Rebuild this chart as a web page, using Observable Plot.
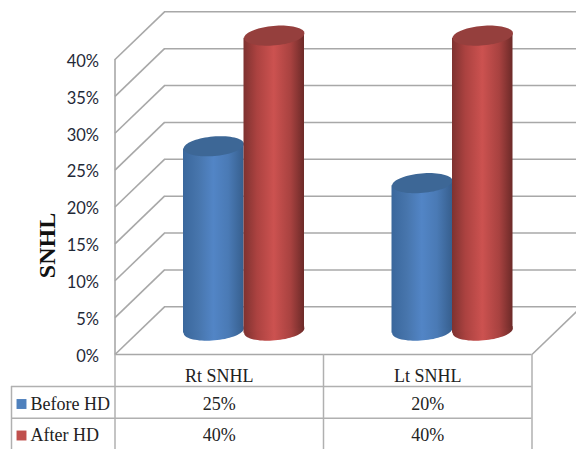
<!DOCTYPE html>
<html>
<head>
<meta charset="utf-8">
<script src="https://cdn.jsdelivr.net/npm/d3@7"></script>
<script src="https://cdn.jsdelivr.net/npm/@observablehq/plot@0.6"></script>
<style>
  html, body { margin: 0; padding: 0; background: #fff; }
  svg { display: block; }
</style>
</head>
<body>
<div id="chart"></div>
<script>
// Sensorineural hearing loss before and after haemodialysis
const categories = ["Rt SNHL", "Lt SNHL"];
const seriesNames = ["Before HD", "After HD"];
const beforeHD = [25, 20];
const afterHD = [40, 40];
const yTicks = [0, 5, 10, 15, 20, 25, 30, 35, 40];

// Scale geometry: one category is 208.5px wide, one percent is 7.375px tall
const W = 576, H = 449;
const catPx = 208.5, pctPx = 7.375, floorPx = 354, leftPx = 114.5;
const xAt = (px) => (px - leftPx) / catPx;
const yAt = (px) => (floorPx - px) / pctPx;

// Oblique projection of the chart box
const depthX = 49.5 / catPx;
const depthY = 47.7 / pctPx;
const barW = 60.5 / catPx;
const tilt = -5 * Math.PI / 180;
const radius = barW * catPx / 2;
const tiltY = radius * Math.sin(-tilt) / pctPx;

// One row per cylinder, built from the series arrays
const bars = (values, side) => values.map((v, i) => ({
  key: i,
  xc: i + 0.5 + depthX / 2 + side * barW / 2,
  yBase: depthY / 2,
  yTop: v + depthY / 2
}));

// Left and right edge of each cylinder wall; both ends lean with the tilted ellipse
const walls = (rows) => rows.flatMap((d) => [
  { key: d.key, x: d.xc - barW / 2, y1: d.yBase - tiltY, y2: d.yTop - tiltY },
  { key: d.key, x: d.xc + barW / 2, y1: d.yBase + tiltY, y2: d.yTop + tiltY }
]);

// Tilted ellipse used for the cylinder ends; the dot's size sets its radius
const ellipse = {
  draw(ctx, size) {
    const rx = Math.sqrt(size / Math.PI), ry = rx / 3.1;
    for (let k = 0; k < 72; ++k) {
      const t = k / 72 * 2 * Math.PI;
      const ex = rx * Math.cos(t), ey = ry * Math.sin(t);
      const px = ex * Math.cos(tilt) - ey * Math.sin(tilt);
      const py = ex * Math.sin(tilt) + ey * Math.cos(tilt);
      k ? ctx.lineTo(px, py) : ctx.moveTo(px, py);
    }
    ctx.closePath();
  }
};

const gradient = (defs, id, stops) => {
  const g = defs.append("linearGradient").attr("id", id)
    .attr("x1", 0).attr("x2", 1).attr("y1", 0).attr("y2", 0);
  stops.forEach(([o, c]) => g.append("stop").attr("offset", o).attr("stop-color", c));
};

const shading = () => {
  const defs = d3.create("svg:defs");
  gradient(defs, "cylBlue", [[0, "#3a679c"], [0.25, "#4775ac"], [0.5, "#5285c6"], [0.75, "#4a7ab5"], [1, "#375f8e"]]);
  gradient(defs, "cylRed", [[0, "#7e3230"], [0.22, "#ab4240"], [0.5, "#cc5250"], [0.78, "#a84240"], [1, "#6c2a28"]]);
  return defs.node();
};

const cylinder = (rows, body, cap) => [
  Plot.dot(rows, { x: "xc", y: "yBase", r: radius, symbol: ellipse, fill: body, stroke: "none" }),
  Plot.areaY(walls(rows), { x: "x", y1: "y1", y2: "y2", z: "key", fill: body }),
  Plot.dot(rows, { x: "xc", y: "yTop", r: radius, symbol: ellipse, fill: cap, stroke: "none" })
];

const gridColor = "#a8a8a8";
const tableColor = "#b0b0b0";
const serif = "'Liberation Serif', serif";
const rowLines = [386, 417.8].map(yAt);
const colLines = [0, 1, 2];
const rowText = [yAt(403.5), yAt(435)];
const tableBottom = yAt(H);

const cellRows = seriesNames.flatMap((s, r) =>
  categories.map((c, i) => ({ text: [beforeHD, afterHD][r][i] + "%", x: i + 0.5, y: rowText[r] })));

const chart = Plot.plot({
  width: W,
  height: H,
  marginLeft: leftPx,
  marginRight: 0,
  marginTop: 0,
  marginBottom: 0,
  x: { type: "linear", domain: [0, 2], range: [leftPx, leftPx + 2 * catPx], axis: null },
  y: { type: "linear", domain: [yAt(H), yAt(0)], range: [H, 0], axis: null },
  style: { background: "#fff" },
  marks: [
    shading,
    // Back wall and side wall grid
    Plot.ruleY(yTicks, {
      y: (d) => d + depthY, x1: depthX, x2: 2 + depthX,
      stroke: gridColor, strokeWidth: 1.6
    }),
    Plot.link(yTicks, {
      x1: 0, y1: (d) => d, x2: depthX, y2: (d) => d + depthY,
      stroke: gridColor, strokeWidth: 1.6
    }),
    // Front edge of the floor and its right-hand side
    Plot.ruleY([0], { x1: 0, x2: 2, stroke: gridColor, strokeWidth: 1.6 }),
    Plot.link([0], { x1: 2, y1: 0, x2: 2 + depthX, y2: depthY, stroke: gridColor, strokeWidth: 1.6 }),
    Plot.ruleX([0], { y1: 0, y2: 40, stroke: gridColor, strokeWidth: 1.6 }),
    // Cylinders, each series drawn with its own shading
    ...cylinder(bars(beforeHD, -1), "url(#cylBlue)", "#3d6796"),
    ...cylinder(bars(afterHD, 1), "url(#cylRed)", "#953f3d"),
    // Value axis
    Plot.axisY(yTicks, {
      anchor: "left", tickSize: 0, tickPadding: 16, dy: 2, label: null,
      tickFormat: (d) => d + "%", fontSize: 16.5,
      fontFamily: "Lato, sans-serif", fill: "#1f2937"
    }),
    Plot.text(["SNHL"], {
      x: xAt(47), y: yAt(245), rotate: -90, fontSize: 24, fontWeight: "bold",
      fontFamily: serif, fill: "#111"
    }),
    // Data table under the plot
    Plot.ruleX(colLines, { y1: tableBottom, y2: 0, stroke: tableColor, strokeWidth: 1.5 }),
    Plot.ruleX([xAt(11)], { y1: tableBottom, y2: rowLines[0], stroke: tableColor, strokeWidth: 1.5 }),
    Plot.ruleY(rowLines, { x1: xAt(11), x2: 2, stroke: tableColor, strokeWidth: 1.5 }),
    Plot.text(categories, {
      x: (d, i) => i + 0.5, y: yAt(376), text: (d) => d,
      fontSize: 18, fontFamily: serif, fill: "#222"
    }),
    Plot.text(cellRows, {
      x: "x", y: "y", text: "text",
      fontSize: 18, fontFamily: serif, fill: "#222"
    }),
    Plot.dot(seriesNames, {
      x: xAt(21), y: (d, r) => rowText[r], r: 5.6, symbol: "square",
      fill: (d, r) => ["#4f81bd", "#c0504d"][r], stroke: "none"
    }),
    Plot.text(seriesNames, {
      x: xAt(30), y: (d, r) => rowText[r], text: (d) => d, textAnchor: "start",
      fontSize: 18, fontFamily: serif, fill: "#222"
    })
  ]
});

document.getElementById("chart").append(chart);
</script>
</body>
</html>
